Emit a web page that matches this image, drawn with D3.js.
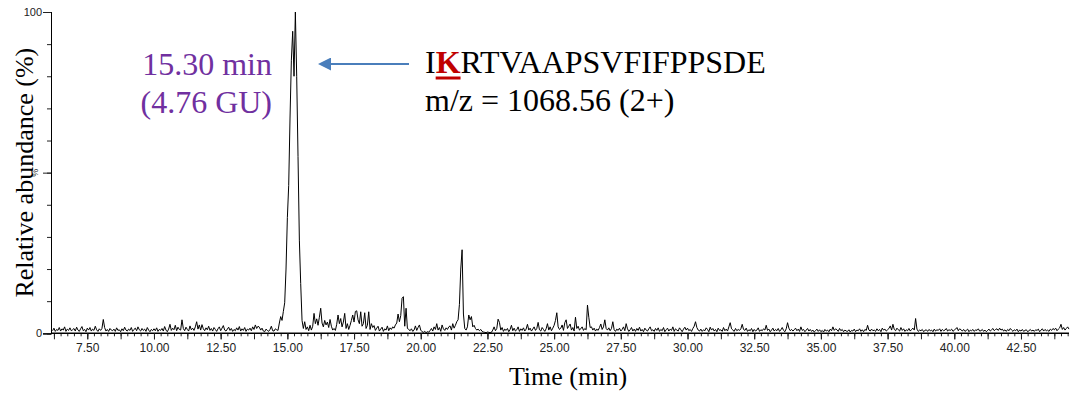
<!DOCTYPE html>
<html>
<head>
<meta charset="utf-8">
<script src="https://cdn.jsdelivr.net/npm/d3@7"></script>
<style>
  body { margin: 0; background: #fff; }
  svg { display: block; }
</style>
</head>
<body>
<div id="chart"></div>
<script>
// chromatogram scan grid (min)
var scanStart = 6.2;
var scanStep = 0.05;

// relative abundance (%), one line per minute
var abundance = [].concat(
  [0.8,1.6,0.6,1.2,0.9,1.8,0.7,1.4,1.0,2.0,0.6,1.3,0.9,1.7,0.8,1.1],                 // 6.20
  [1.5,0.7,1.9,1.0,0.6,1.4,2.1,0.8,1.2,0.5,1.6,1.0,1.8,0.7,1.3,0.9,2.2,1.1,0.6,1.4], // 7
  [0.9,1.5,4.3,1.8,0.7,1.2,0.6,1.5,1.0,0.8,1.3,0.6,1.7,0.9,1.1,0.5,1.4,0.8,1.9,1.0], // 8
  [0.7,1.3,0.9,1.8,0.6,1.2,1.6,0.8,2.0,1.1,0.7,1.5,0.9,1.3,0.6,1.8,1.0,0.5,1.2,0.8], // 9
  [1.4,0.8,1.7,0.6,1.2,0.9,1.5,0.7,2.1,1.0,0.5,1.3,2.8,0.9,1.6,1.1,2.5,0.8,1.9,1.2], // 10
  [1.0,4.2,1.5,0.8,1.9,1.2,0.7,2.3,1.1,1.6,0.9,2.0,3.6,1.3,2.6,1.0,2.7,1.4,0.8,1.7], // 11
  [1.1,2.2,0.9,1.5,0.7,1.8,1.2,0.6,1.4,2.0,0.8,1.6,2.4,1.0,0.7,1.3,1.9,0.9,1.5,0.6], // 12
  [1.2,0.8,1.7,1.0,2.1,0.7,1.4,0.9,1.8,0.6,1.3,1.0,1.6,0.8,2.0,1.2,2.6,1.5,2.2,1.9], // 13
  [1.0,1.6,0.7,0.5,1.3,0.9,0.6,1.2,2.2,0.8,0.7,1.4,1.1,0.9,3.2,5.2,4.0,6.8,9.5,20.0], // 14
  [36.0,46.0,67.0,85.0,94.0,80.0,100.0,80.0,55.0,29.0,15.5,4.0,1.5,3.6,1.2,2.0,0.8,2.5,1.0,2.2], // 15
  [6.2,3.0,4.5,2.5,5.0,7.8,3.2,2.0,4.0,2.6,3.5,1.8,4.3,2.2,1.0,1.5,0.9,2.8,5.7,3.0], // 16
  [4.6,2.0,3.5,6.2,1.5,3.0,1.2,2.5,4.0,5.7,3.5,6.8,7.0,4.2,3.0,6.7,2.2,3.0,6.4,1.5], // 17
  [2.5,6.7,1.2,3.0,1.8,2.4,0.9,1.6,2.2,0.7,1.3,1.9,0.6,1.4,1.0,2.3,0.8,1.7,1.2,2.0], // 18
  [1.6,2.6,3.2,6.0,3.6,5.5,10.9,11.4,2.2,7.8,1.5,1.2,0.8,1.4,0.6,1.0,2.3,0.9,1.8,2.6], // 19
  [1.0,0.5,0.3,0.6,0.2,0.5,0.4,0.8,1.5,0.7,2.0,1.2,3.0,1.0,1.8,0.6,2.6,1.4,0.9,1.7], // 20
  [1.2,2.0,2.3,1.0,3.0,1.6,2.5,3.6,4.2,9.0,20.0,26.0,6.0,1.5,1.0,2.0,5.7,4.2,5.2,2.0], // 21
  [2.5,1.5,1.0,1.3,0.8,1.2,0.6,0.4,0.3,0.2,0.4,0.3,0.2,0.3,1.0,2.0,0.8,1.5,4.4,3.4], // 22
  [1.0,1.8,0.6,1.3,0.9,1.5,0.5,1.2,2.5,0.8,1.6,0.7,1.1,2.0,0.6,1.4,0.9,1.7,0.7,1.3], // 23
  [2.8,1.0,1.6,0.7,1.3,2.0,0.9,1.5,3.4,1.1,0.7,1.8,1.2,0.6,1.4,3.0,1.0,2.0,0.8,1.6], // 24
  [2.5,4.0,6.4,2.0,1.2,1.6,2.6,0.9,3.3,4.2,1.5,2.2,2.9,1.0,1.8,0.7,5.0,1.5,2.2,1.0], // 25
  [1.4,2.0,0.9,1.5,1.1,8.8,5.0,1.8,2.0,1.0,1.6,0.7,1.3,0.9,1.8,2.9,1.2,2.0,4.2,1.5], // 26
  [1.0,1.7,0.8,1.5,3.6,1.1,0.6,1.3,0.9,1.6,0.7,1.2,2.0,0.8,3.0,1.4,0.6,1.1,1.8,0.7], // 27
  [1.3,0.6,1.5,0.9,1.9,0.7,1.2,0.5,1.6,1.0,0.7,1.4,2.0,0.8,1.1,0.6,1.5,0.9,1.7,0.6], // 28
  [1.2,0.8,1.8,0.5,1.1,1.6,0.7,1.3,0.9,2.0,0.6,1.4,1.0,0.7,1.7,1.1,0.5,1.3,1.9,1.0], // 29
  [1.6,0.8,1.2,0.6,1.5,2.2,3.6,1.8,1.0,0.7,1.3,0.6,1.1,0.8,1.7,1.2,0.5,1.9,1.0,1.5], // 30
  [0.7,1.2,0.5,1.6,0.9,1.1,0.6,1.8,0.8,1.3,0.7,2.0,3.3,1.4,1.0,0.6,1.5,0.8,1.2,0.9], // 31
  [1.4,2.8,1.2,0.9,1.6,0.6,1.1,0.8,1.5,0.5,1.2,0.7,1.0,1.7,0.6,1.1,0.8,1.4,1.0,2.5], // 32
  [0.9,1.3,0.5,1.0,1.6,0.7,1.2,0.8,1.5,0.6,1.1,1.8,0.9,0.5,1.4,3.3,1.6,0.8,1.2,0.7], // 33
  [1.1,1.6,0.8,1.3,0.6,2.0,0.9,1.2,0.5,1.0,1.5,0.7,1.2,0.6,1.0,0.4,0.8,1.3,0.6,1.1], // 34
  [0.5,0.9,0.4,1.2,0.7,1.0,0.5,1.3,0.8,2.0,0.9,1.4,1.1,0.6,1.5,0.8,1.2,0.5,1.0,0.7], // 35
  [0.6,1.1,0.4,0.9,0.7,1.3,0.5,1.0,0.8,1.4,0.6,1.1,0.5,1.2,0.9,2.5,1.0,0.7,1.3,0.8], // 36
  [1.0,0.6,1.4,0.8,1.2,0.5,1.6,1.0,1.3,0.7,1.1,1.5,2.3,1.0,2.8,1.2,0.8,1.6,1.1,0.7], // 37
  [1.8,0.9,1.4,0.6,1.1,0.8,1.5,0.7,1.2,1.6,1.0,4.6,1.3,0.6,1.0,0.8,1.2,0.5,0.9,1.1], // 38
  [0.6,1.2,0.8,1.0,0.5,1.3,0.7,1.1,0.9,1.4,0.6,1.2,0.8,1.0,1.5,0.7,1.1,0.9,1.3,0.6], // 39
  [1.0,1.3,1.8,0.8,1.4,1.1,0.7,1.2,0.6,0.9,1.3,0.5,1.0,0.8,1.2,0.6,1.1,0.9,1.4,0.7], // 40
  [0.8,1.2,0.6,1.0,0.5,0.9,1.3,0.7,1.1,1.5,0.8,1.2,1.4,0.9,1.6,1.0,1.3,0.7,1.1,0.6], // 41
  [1.2,0.8,1.5,1.0,0.6,1.1,0.8,1.3,0.5,1.0,0.7,1.2,0.6,0.9,1.1,0.5,0.8,1.2,0.7,1.0], // 42
  [0.6,1.1,0.9,1.3,0.5,1.0,1.4,0.7,1.2,0.8,1.0,0.6,1.3,0.9,1.5,1.1,1.6,0.8,1.3,1.7], // 43
  [2.8,1.2,1.8,1.0,1.5,2.0,1.3]                                                      // 44
);

var xLabelTicks = [7.5, 10, 12.5, 15, 17.5, 20, 22.5, 25, 27.5, 30, 32.5, 35, 37.5, 40, 42.5];
var yLabelTicks = [0, 100];

var peakTime = "15.30 min";
var peakGU = "(4.76 GU)";
var peptideHead = "I";
var peptideSite = "K";
var peptideTail = "RTVAAPSVFIFPPSDE";
var peptideMz = "m/z = 1068.56 (2+)";

var width = 1070;
var height = 393;
var x = d3.scaleLinear().domain([6.14, 44.3]).range([51, 1069]);
var y = d3.scaleLinear().domain([0, 100]).range([333.3, 12]);

var svg = d3.select("#chart").append("svg")
    .attr("width", width)
    .attr("height", height);

var data = abundance.map(function(v, i) {
    return { t: scanStart + i * scanStep, v: v };
});

// x axis: minor ticks, majors every 1.25 min, labels every 2.5
var xAxisG = svg.append("g").attr("transform", "translate(0," + y(0) + ")");
xAxisG.append("g")
    .call(d3.axisBottom(x).tickValues(d3.range(6.25, 44.3, 0.25)).tickSize(3).tickFormat(""));
xAxisG.append("g")
    .call(d3.axisBottom(x).tickValues(d3.range(6.25, 44.3, 1.25)).tickSize(6).tickFormat(""));
xAxisG.append("g")
    .call(d3.axisBottom(x).tickValues(xLabelTicks).tickSize(6).tickPadding(4).tickFormat(d3.format(".2f")));
xAxisG.selectAll(".domain").attr("stroke", "#000").attr("d", "M" + x.range()[0] + ",0H" + x.range()[1]);
xAxisG.selectAll("line").attr("stroke", "#222");
xAxisG.selectAll("text")
    .style("font-family", "'Liberation Sans', Arial, sans-serif")
    .style("font-size", "12px")
    .attr("fill", "#222");

// y axis
var yAxisG = svg.append("g").attr("transform", "translate(" + x.range()[0] + ",0)");
yAxisG.append("g")
    .call(d3.axisLeft(y).tickValues(d3.range(0, 101, 10)).tickSize(4).tickFormat(""));
yAxisG.append("g")
    .call(d3.axisLeft(y).tickValues([0, 50, 100]).tickSize(8).tickFormat(""));
yAxisG.append("g")
    .call(d3.axisLeft(y).tickValues(yLabelTicks).tickSize(8).tickPadding(1));
yAxisG.selectAll(".domain").attr("stroke", "#000");
yAxisG.selectAll("line").attr("stroke", "#222");
yAxisG.selectAll("text")
    .style("font-family", "'Liberation Sans', Arial, sans-serif")
    .style("font-size", "11px")
    .attr("fill", "#222");

svg.append("text")
    .attr("transform", "translate(38," + y(50) + ") rotate(-90)")
    .attr("text-anchor", "middle")
    .style("font-family", "'Liberation Sans', Arial, sans-serif")
    .style("font-size", "9px")
    .attr("fill", "#222")
    .text("%");

// trace
svg.append("path")
    .datum(data)
    .attr("fill", "none")
    .attr("stroke", "#000")
    .attr("stroke-width", 1)
    .attr("stroke-linejoin", "round")
    .attr("d", d3.line().x(function(d) { return x(d.t); }).y(function(d) { return y(d.v); }));

// axis titles
var serif = "'Liberation Serif', 'Times New Roman', serif";
svg.append("text")
    .attr("x", 568)
    .attr("y", 385)
    .attr("text-anchor", "middle")
    .style("font-family", serif)
    .style("font-size", "26px")
    .text("Time (min)");

svg.append("text")
    .attr("transform", "translate(33," + y(50) + ") rotate(-90)")
    .attr("text-anchor", "middle")
    .style("font-family", serif)
    .style("font-size", "26px")
    .text("Relative abundance (%)");

// peak annotation
svg.append("text")
    .attr("x", 272).attr("y", 75)
    .attr("text-anchor", "end")
    .style("font-family", serif).style("font-size", "32px")
    .attr("fill", "#7030a0")
    .text(peakTime);
svg.append("text")
    .attr("x", 272).attr("y", 113)
    .attr("text-anchor", "end")
    .style("font-family", serif).style("font-size", "32px")
    .attr("fill", "#7030a0")
    .text(peakGU);

// arrow
svg.append("defs").append("marker")
    .attr("id", "head")
    .attr("viewBox", "0 0 10 10")
    .attr("refX", 0).attr("refY", 5)
    .attr("markerWidth", 7).attr("markerHeight", 6.5)
    .attr("markerUnits", "strokeWidth")
    .attr("orient", "auto")
    .append("path")
    .attr("d", "M0,0L10,5L0,10Z")
    .attr("fill", "#4a7ebb");
svg.append("line")
    .attr("x1", 409).attr("y1", 64)
    .attr("x2", 331).attr("y2", 64)
    .attr("stroke", "#4a7ebb")
    .attr("stroke-width", 2)
    .attr("marker-end", "url(#head)");

// peptide label
var pep = svg.append("text")
    .attr("x", 425).attr("y", 73)
    .style("font-family", serif).style("font-size", "32px")
    .attr("fill", "#000");
pep.append("tspan").text(peptideHead);
pep.append("tspan").attr("font-weight", "bold").attr("fill", "#c00000").text(peptideSite);
pep.append("tspan").text(peptideTail);

svg.append("text")
    .attr("x", 425).attr("y", 111)
    .style("font-family", serif).style("font-size", "32px")
    .attr("fill", "#000")
    .text(peptideMz);

// underline under the modified residue
var headW = pep.node().getSubStringLength(0, 1);
var siteW = pep.node().getSubStringLength(1, 1);
svg.append("line")
    .attr("x1", 425 + headW).attr("x2", 425 + headW + siteW)
    .attr("y1", 78).attr("y2", 78)
    .attr("stroke", "#c00000")
    .attr("stroke-width", 3);
</script>
</body>
</html>
